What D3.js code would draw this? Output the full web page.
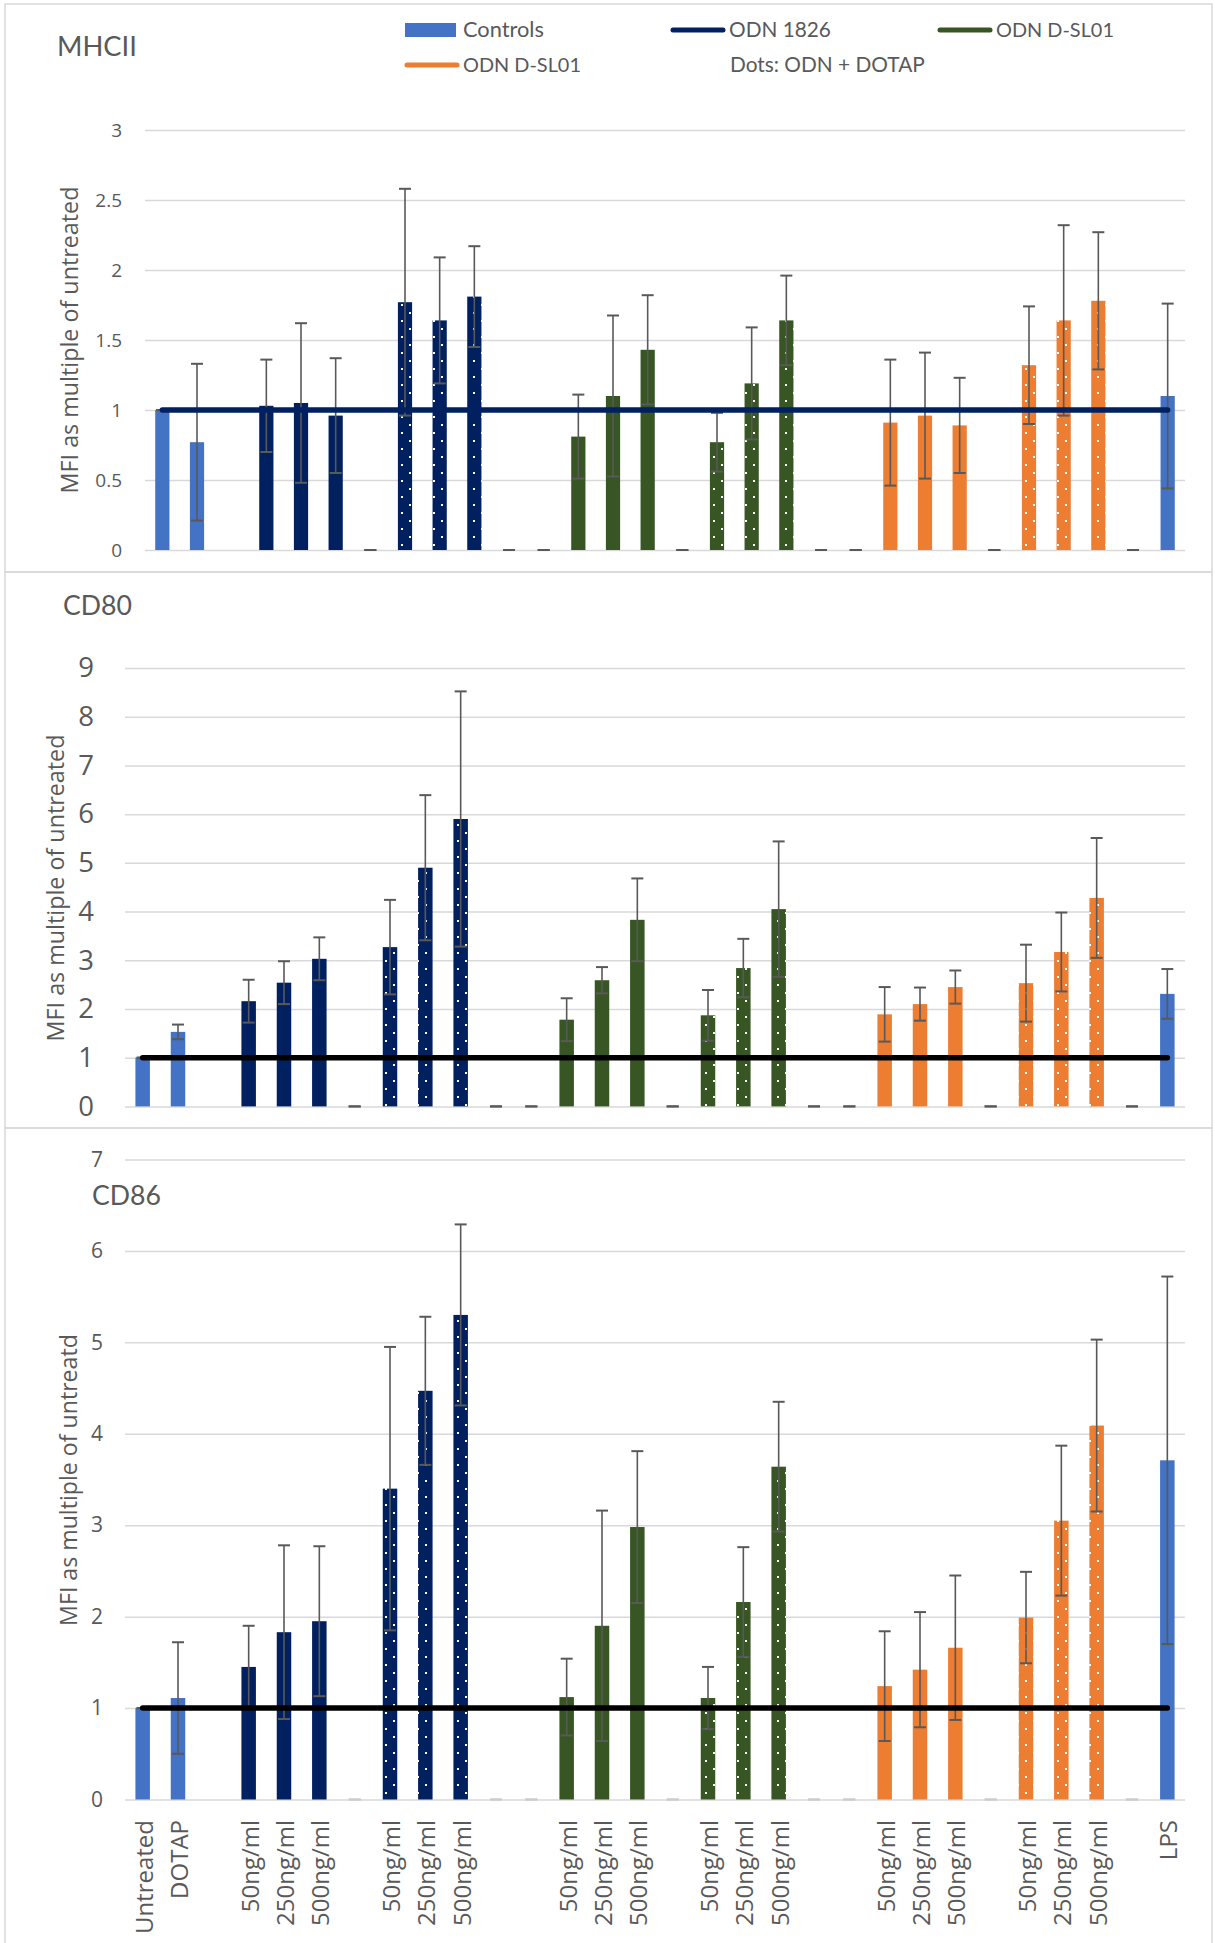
<!DOCTYPE html>
<html><head><meta charset="utf-8">
<script src="https://cdn.jsdelivr.net/npm/d3@7"></script>
<style>body{margin:0;background:#fff} svg{display:block}</style>
</head><body>
<svg id="chart" width="1215" height="1943"></svg>
<script>
// ---------- DATA ----------
const slotLabels = ["Untreated","DOTAP","","50ng/ml","250ng/ml","500ng/ml","","50ng/ml","250ng/ml","500ng/ml","","",
  "50ng/ml","250ng/ml","500ng/ml","","50ng/ml","250ng/ml","500ng/ml","","",
  "50ng/ml","250ng/ml","500ng/ml","","50ng/ml","250ng/ml","500ng/ml","","LPS"];
const slotGroup = ["ctrl","ctrl",null,"odn1826","odn1826","odn1826","odn1826","odn1826","odn1826","odn1826","odn1826","dsl01g",
  "dsl01g","dsl01g","dsl01g","dsl01g","dsl01g","dsl01g","dsl01g","dsl01g","dsl01o",
  "dsl01o","dsl01o","dsl01o","dsl01o","dsl01o","dsl01o","dsl01o","dsl01o","ctrl"];
const slotDotted = [0,0,0,0,0,0,0,1,1,1,0,0,0,0,0,0,1,1,1,0,0,0,0,0,0,1,1,1,0,0];

const mhciiValues = [1.00,0.77,null,1.03,1.05,0.96,0,1.77,1.64,1.81,0,0,0.81,1.10,1.43,0,0.77,1.19,1.64,0,0,0.91,0.96,0.89,0,1.32,1.64,1.78,0,1.10];
const mhciiErrors = [0,0.56,null,0.33,0.57,0.41,0,0.81,0.45,0.36,0,0,0.30,0.575,0.39,0,0.21,0.40,0.32,0,0,0.45,0.45,0.34,0,0.42,0.68,0.49,0,0.66];

const cd80Values = [1.00,1.53,null,2.16,2.54,3.03,0,3.27,4.90,5.90,0,0,1.78,2.59,3.83,0,1.87,2.84,4.05,0,0,1.89,2.10,2.45,0,2.53,3.17,4.28,0,2.31];
const cd80Errors = [0,0.15,null,0.44,0.44,0.44,0,0.97,1.49,2.62,0,0,0.44,0.27,0.85,0,0.52,0.60,1.39,0,0,0.56,0.34,0.34,0,0.79,0.81,1.23,0,0.51];

const cd86Values = [1.00,1.11,null,1.45,1.83,1.95,0,3.40,4.47,5.30,0,0,1.12,1.90,2.98,0,1.11,2.16,3.64,0,0,1.24,1.42,1.66,0,1.99,3.05,4.09,0,3.71];
const cd86Errors = [0,0.61,null,0.45,0.95,0.82,0,1.55,0.81,0.99,0,0,0.42,1.26,0.83,0,0.34,0.60,0.71,0,0,0.60,0.63,0.79,0,0.50,0.82,0.94,0,2.01];

const mhciiTicks = [0,0.5,1,1.5,2,2.5,3];
const cd80Ticks = [0,1,2,3,4,5,6,7,8,9];
const cd86Ticks = [0,1,2,3,4,5,6,7];

const baselineSlots = [0, 29];
const baselineLevel = [1, 1];

const legendLabels = ["Controls","ODN 1826","ODN D-SL01","ODN D-SL01","Dots: ODN + DOTAP"];
const legendKinds  = ["rect","line","line","line","none"];
const legendGroups = ["ctrl","odn1826","dsl01g","dsl01o",null];

// ---------- STYLE ----------
const colors = {ctrl:"#4472C4", odn1826:"#002060", dsl01g:"#375623", dsl01o:"#ED7D31"};
const textColor = "#595959";
const gridColor = "#d9d9d9";
const axisFont = "'Open Sans', 'Noto Sans', sans-serif";
const titleFont = "Lato, 'Open Sans', sans-serif";

const svg = d3.select("#chart");
const defs = svg.append("defs");
Object.entries(colors).forEach(([k,c]) => {
  const p = defs.append("pattern").attr("id","dots-"+k).attr("patternUnits","userSpaceOnUse")
    .attr("width",16).attr("height",16).attr("x",1).attr("y",0);
  p.append("rect").attr("width",16).attr("height",16).attr("fill",c);
  p.append("rect").attr("x",0).attr("y",0).attr("width",2).attr("height",2).attr("fill","#fff");
  p.append("rect").attr("x",8).attr("y",8).attr("width",2).attr("height",2).attr("fill","#fff");
});

function fitWidth(sel, target) {
  const w = sel.node().getComputedTextLength();
  const fs = parseFloat(sel.attr("font-size"));
  if (w > 0) sel.attr("font-size", fs * target / w);
}

// panel borders
[[5,4,1207,568],[5,572,1207,556],[5,1128,1207,830]].forEach(b => {
  svg.append("rect").attr("x",b[0]).attr("y",b[1]).attr("width",b[2]).attr("height",b[3])
    .attr("fill","none").attr("stroke",gridColor).attr("stroke-width",1.5);
});

const panels = [
  {values:mhciiValues, errors:mhciiErrors, ticks:mhciiTicks, x0:145, x1:1185, y0:550, yTop:130,
   tickPad:23, tickFont:19, refColor:"#002060", zeroColor:"#595959",
   title:"MHCII", titleX:57, titleY:56, titleW:80,
   yTitle:"MFI as multiple of untreated", yTitleX:78, yTitleY:340, yTitleW:307},
  {values:cd80Values, errors:cd80Errors, ticks:cd80Ticks, x0:125, x1:1185, y0:1106.4, yTop:668,
   tickPad:31, tickFont:27.5, refColor:"#000000", zeroColor:"#595959",
   title:"CD80", titleX:63, titleY:615, titleW:69,
   yTitle:"MFI as multiple of untreated", yTitleX:64, yTitleY:888, yTitleW:307},
  {values:cd86Values, errors:cd86Errors, ticks:cd86Ticks, x0:125, x1:1185, y0:1799.5, yTop:1159.5,
   tickPad:22, tickFont:21, refColor:"#000000", zeroColor:"#cccccc",
   title:"CD86", titleX:92, titleY:1205, titleW:69,
   yTitle:"MFI as multiple of untreatd", yTitleX:76.5, yTitleY:1480, yTitleW:292, xLabels:true}
];

panels.forEach(cfg => {
  const g = svg.append("g");
  const x = d3.scaleBand().domain(d3.range(slotLabels.length)).range([cfg.x0, cfg.x1])
    .paddingInner(0.59).paddingOuter(0.295);
  const y = d3.scaleLinear().domain([0, d3.max(cfg.ticks)]).range([cfg.y0, cfg.yTop]);

  // gridlines + tick labels
  const ax = g.append("g").attr("transform",`translate(${cfg.x0},0)`)
    .call(d3.axisLeft(y).tickValues(cfg.ticks).tickSize(-(cfg.x1-cfg.x0)).tickPadding(cfg.tickPad).tickFormat(d3.format("~g")));
  ax.select(".domain").remove();
  ax.selectAll(".tick line").attr("stroke",gridColor).attr("stroke-width",1.5);
  ax.selectAll(".tick text").attr("fill",textColor).attr("font-family",axisFont).attr("font-size",cfg.tickFont);

  // title
  const t = g.append("text").attr("x",cfg.titleX).attr("y",cfg.titleY).attr("fill",textColor)
    .attr("font-family",titleFont).attr("font-size",28).text(cfg.title);
  fitWidth(t, cfg.titleW);

  // y title
  const yt = g.append("text").attr("transform",`translate(${cfg.yTitleX},${cfg.yTitleY}) rotate(-90)`)
    .attr("text-anchor","middle").attr("fill",textColor).attr("font-family",axisFont).attr("font-size",23)
    .text(cfg.yTitle);
  fitWidth(yt, cfg.yTitleW);

  const idx = d3.range(slotLabels.length).filter(i => cfg.values[i] !== null);

  // bars
  g.selectAll("rect.bar").data(idx).join("rect").attr("class","bar")
    .attr("x", i => x(i)).attr("width", x.bandwidth())
    .attr("y", i => y(cfg.values[i])).attr("height", i => y(0) - y(cfg.values[i]))
    .attr("fill", i => slotDotted[i] ? `url(#dots-${slotGroup[i]})` : colors[slotGroup[i]]);

  // error bars
  const cx = i => x(i) + x.bandwidth()/2;
  const capW = 12;
  const eb = g.append("g");
  idx.forEach(i => {
    const v = cfg.values[i], e = cfg.errors[i];
    const col = v === 0 ? cfg.zeroColor : "#595959";
    if (e > 0) {
      eb.append("line").attr("x1",cx(i)).attr("x2",cx(i)).attr("y1",y(v+e)).attr("y2",y(v-e))
        .attr("stroke",col).attr("stroke-width",1.6);
    }
    [v+e, v-e].forEach(val => {
      eb.append("line").attr("x1",cx(i)-capW/2).attr("x2",cx(i)+capW/2).attr("y1",y(val)).attr("y2",y(val))
        .attr("stroke",col).attr("stroke-width",2);
    });
  });

  // reference line
  const line = d3.line().x(d => cx(d[0])).y(d => y(d[1]));
  g.append("path").datum(baselineSlots.map((s,k) => [s, baselineLevel[k]]))
    .attr("d", line).attr("fill","none").attr("stroke",cfg.refColor).attr("stroke-width",5.5)
    .attr("stroke-linecap","round");

  // x labels
  if (cfg.xLabels) {
    const xa = g.append("g").attr("transform",`translate(0,${cfg.y0})`)
      .call(d3.axisBottom(x).tickSize(0).tickFormat(i => slotLabels[i]));
    xa.select(".domain").remove();
    xa.selectAll(".tick text").attr("fill",textColor).attr("font-family",axisFont).attr("font-size",24)
      .attr("transform","rotate(-90)").attr("x",-20.5).attr("y",0).attr("dy","0.42em")
      .style("text-anchor","end");
  }
});

// legend
const lg = svg.append("g");
const legendPos = [[405,30],[671,30],[938,30],[405,65],[730,65]];
const legendTextW = [81,102,118,118,195];
legendLabels.forEach((lab,k) => {
  const [lx,ly] = legendPos[k];
  const kind = legendKinds[k];
  let tx = lx;
  if (kind === "rect") {
    lg.append("rect").attr("x",lx).attr("y",ly-7).attr("width",51).attr("height",14).attr("fill",colors[legendGroups[k]]);
    tx = lx + 58;
  } else if (kind === "line") {
    lg.append("line").attr("x1",lx+2).attr("x2",lx+52).attr("y1",ly).attr("y2",ly)
      .attr("stroke",colors[legendGroups[k]]).attr("stroke-width",5).attr("stroke-linecap","round");
    tx = lx + 58;
  }
  const t = lg.append("text").attr("x",tx).attr("y",ly+6.7).attr("fill",textColor)
    .attr("font-family",titleFont).attr("font-size",18).text(lab);
  fitWidth(t, legendTextW[k]);
});
</script>
</body></html>
